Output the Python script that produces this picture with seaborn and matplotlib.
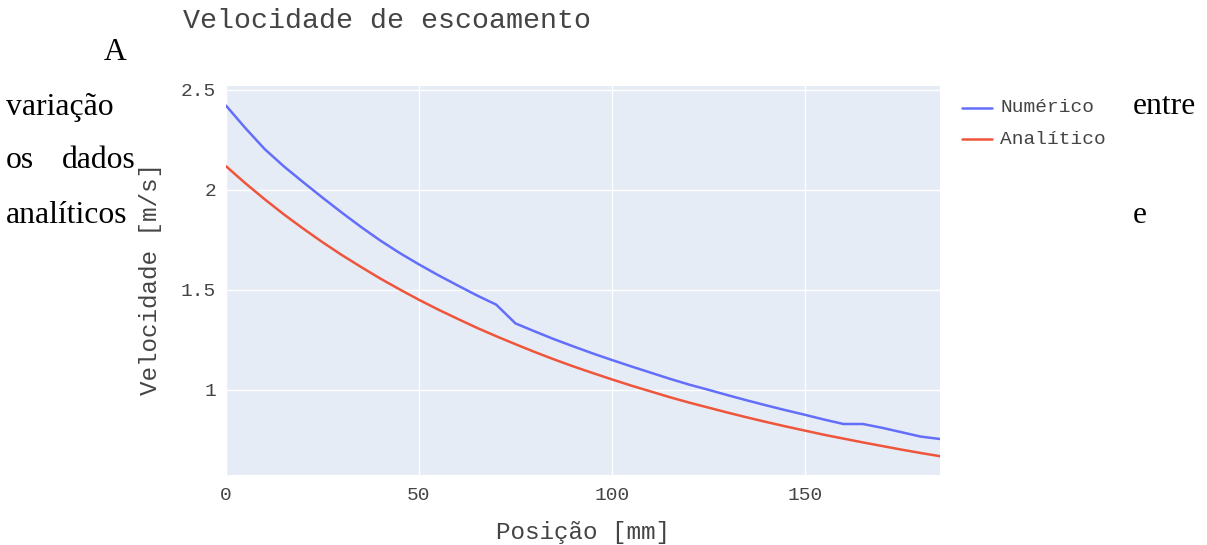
import numpy as np
import pandas as pd
import matplotlib
matplotlib.use("Agg")
import matplotlib.pyplot as plt
import seaborn as sns

posicao = [0, 5, 10, 15, 20, 25, 30, 35, 40, 45, 50, 55, 60, 65, 70, 75, 80, 85, 90,
           95, 100, 105, 110, 115, 120, 125, 130, 135, 140, 145, 150, 155, 160, 165,
           170, 175, 180, 185]
numerico = [2.422, 2.31, 2.205, 2.118, 2.039, 1.962, 1.887, 1.815, 1.747, 1.685,
            1.628, 1.574, 1.523, 1.473, 1.427, 1.333, 1.293, 1.254, 1.218, 1.183,
            1.150, 1.118, 1.087, 1.056, 1.027, 1.001, 0.974, 0.948, 0.923, 0.899,
            0.876, 0.852, 0.830, 0.830, 0.811, 0.789, 0.767, 0.755]
analitico = [2.119, 2.034, 1.954, 1.878, 1.807, 1.739, 1.675, 1.615, 1.557, 1.503,
             1.451, 1.402, 1.356, 1.311, 1.269, 1.229, 1.190, 1.153, 1.118, 1.085,
             1.053, 1.022, 0.993, 0.964, 0.937, 0.912, 0.887, 0.863, 0.840, 0.818,
             0.797, 0.776, 0.757, 0.738, 0.720, 0.702, 0.685, 0.669]
series_names = ["Numérico", "Analítico"]
x_ticks = [0, 50, 100, 150]
x_tick_labels = ["0", "50", "100", "150"]
y_ticks = [1, 1.5, 2, 2.5]
y_tick_labels = ["1", "1.5", "2", "2.5"]

df = pd.DataFrame({
    "Posição": posicao + posicao,
    "Velocidade": numerico + analitico,
    "Série": [series_names[0]] * len(posicao) + [series_names[1]] * len(posicao),
})

sns.set_theme(style="white")
mono = "Liberation Mono"
serif = "Liberation Serif"
grey = "#444444"

W, H = 1207, 545
fig = plt.figure(figsize=(W / 100, H / 100), dpi=100)
fig.patch.set_facecolor("white")
L, R, T, B = 226, 940, 86, 475
ax = fig.add_axes([L / W, 1 - B / H, (R - L) / W, (B - T) / H])
ax.set_facecolor("#E5ECF6")

sns.lineplot(data=df, x="Posição", y="Velocidade", hue="Série", ax=ax,
             palette={"Numérico": "#636EFA", "Analítico": "#EF553B"},
             linewidth=1.8, legend=False, sort=False)

ax.set_xlim(0, 185)
ax.set_ylim(0.575, 2.52)
ax.set_xticks(x_ticks)
ax.set_xticklabels(x_tick_labels)
ax.set_yticks(y_ticks)
ax.set_yticklabels(y_tick_labels)
ax.grid(True, color="white", linewidth=1.0)
ax.set_axisbelow(True)
for s in ax.spines.values():
    s.set_visible(False)
ax.tick_params(axis="both", length=0, labelsize=14, labelcolor=grey)
ax.tick_params(axis="x", pad=9)
ax.tick_params(axis="y", pad=7)
for lab in ax.get_xticklabels() + ax.get_yticklabels():
    lab.set_fontfamily(mono)
ax.set_xlabel("")
ax.set_ylabel("")

def px(x, y):
    return x / W, 1 - y / H

fig.text(*px(583, 532), "Posição [mm]", family=mono, fontsize=17.5, color=grey,
         ha="center", va="center")
fig.text(*px(150, 279), "Velocidade [m/s]", family=mono, fontsize=17.5, color=grey,
         ha="center", va="center", rotation=90)
fig.text(*px(183, 21), "Velocidade de escoamento", family=mono, fontsize=20.4, color=grey,
         ha="left", va="center")

# legend
for i, (name, col) in enumerate(zip(series_names, ["#636EFA", "#EF553B"])):
    yy = 108 + i * 31
    fig.add_artist(plt.Line2D([962 / W, 992 / W], [1 - yy / H, 1 - yy / H],
                              color=col, linewidth=1.8, transform=fig.transFigure))
    fig.text(*px(1000, yy), name, family=mono, fontsize=14, color=grey,
             ha="left", va="center")

# surrounding document text
doc = [("A", 104, 60), ("variação", 6, 115), ("os", 6, 168), ("dados", 62, 168),
       ("analíticos", 6, 223), ("entre", 1133, 114), ("e", 1133, 223)]
for t, x, y in doc:
    fig.text(*px(x, y), t, family=serif, fontsize=22.8, color="black",
             ha="left", va="baseline")

fig.savefig("out.png", dpi=100)
